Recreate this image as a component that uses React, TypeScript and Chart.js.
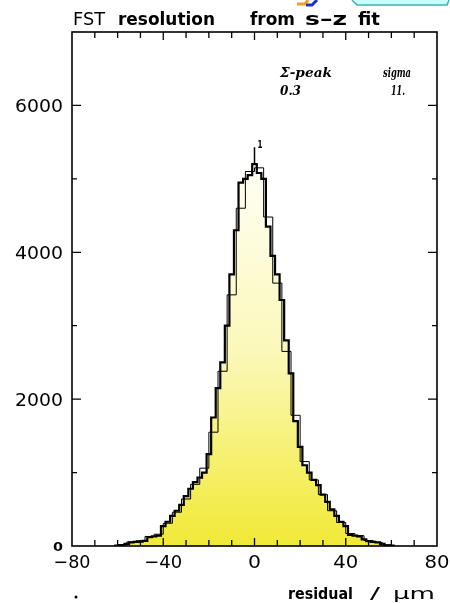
import React, { useEffect, useRef } from "react";
import { Chart, registerables } from "chart.js";

Chart.register(...registerables);

// Residual histogram, 2 µm bins centred on even values
const binWidth = 2;
const binCenters = [
  -60, -58, -56, -54, -52, -50, -48, -46, -44, -42, -40, -38, -36, -34, -32, -30,
  -28, -26, -24, -22, -20, -18, -16, -14, -12, -10, -8, -6, -4, -2, 0, 2, 4, 6, 8,
  10, 12, 14, 16, 18, 20, 22, 24, 26, 28, 30, 32, 34, 36, 38, 40, 42, 44, 46, 48,
  50, 52, 54, 56, 58, 60,
];
const counts = [
  5, 10, 30, 50, 55, 60, 70, 120, 130, 140, 270, 330, 410, 480, 560, 680,
  780, 870, 930, 1000, 1250, 1750, 2150, 2500, 3000, 3700, 4300, 4950, 5000, 5050, 5200, 5080, 5000, 4350, 3950,
  3700, 3350, 2800, 2350, 1700, 1350, 1100, 1000, 900, 830, 700, 600, 500, 410, 330,
  270, 150, 140, 130, 90, 65, 55, 50, 30, 10, 5,
];

// Same residuals in 4 µm bins (open outline)
const coarseWidth = 4;
const coarseCenters = [
  -58, -54, -50, -46, -42, -38, -34, -30, -26, -22, -18, -14, -10, -6, -2,
  2, 6, 10, 14, 18, 22, 26, 30, 34, 38, 42, 46, 50, 54, 58,
];
const coarseCounts = [
  20, 55, 70, 130, 160, 310, 460, 640, 840, 1060, 1550, 2380, 3420, 4600, 5100,
  5150, 4480, 3580, 2650, 1780, 1150, 900, 700, 480, 320, 170, 140, 75, 50, 15,
];

// Error bar drawn on the peak bin
const peakBarX = 0;
const peakBar = [5200, 5430];

const xMin = -80;
const xMax = 80;
const yMax = 7000;
const xTickValues = [-80, -40, 0, 40, 80];
const xTickLabels = ["\u221280", "\u221240", "0", "40", "80"];
const yTickValues = [2000, 4000, 6000];
const yTickLabels = ["2000", "4000", "6000"];

const titleWords = ["FST", "resolution", "from", "s\u2013z", "fit"];
const statNames = ["\u03a3-peak", "sigma"];
const statValues = ["0.3", "11."];
const axisTitle = ["residual", "/", "\u03bcm"];

function stepPoints(centers: number[], values: number[], width: number) {
  const pts: { x: number; y: number }[] = [{ x: centers[0] - width / 2, y: 0 }];
  centers.forEach((c, i) => pts.push({ x: c - width / 2, y: values[i] }));
  const right = centers[centers.length - 1] + width / 2;
  pts.push({ x: right, y: values[values.length - 1] });
  pts.push({ x: right, y: 0 });
  return pts;
}

function fitText(
  ctx: CanvasRenderingContext2D,
  text: string,
  x: number,
  y: number,
  w: number,
  font: string
) {
  ctx.save();
  ctx.font = font;
  ctx.textAlign = "left";
  ctx.textBaseline = "alphabetic";
  const m = ctx.measureText(text).width;
  ctx.translate(x, y);
  ctx.scale(w / m, 1);
  ctx.fillText(text, 0, 0);
  ctx.restore();
}

const framePlugin = {
  id: "hbookFrame",
  afterDraw(chart: any) {
    const { ctx, chartArea: a } = chart;
    const xs = chart.scales.x;
    const ys = chart.scales.y;
    ctx.save();
    ctx.strokeStyle = "#000";
    ctx.fillStyle = "#000";

    // frame
    ctx.lineWidth = 1.6;
    ctx.strokeRect(a.left, a.top, a.right - a.left, a.bottom - a.top);

    // x ticks on bottom and top, pointing inward
    ctx.lineWidth = 1.3;
    for (let v = -70; v <= 70; v += 10) {
      const px = xs.getPixelForValue(v);
      const len = v % 40 === 0 ? 8 : 6;
      ctx.beginPath();
      ctx.moveTo(px, a.bottom);
      ctx.lineTo(px, a.bottom - len);
      ctx.moveTo(px, a.top);
      ctx.lineTo(px, a.top + len);
      ctx.stroke();
    }
    // y ticks on left and right
    for (let v = 1000; v <= 6000; v += 1000) {
      const py = ys.getPixelForValue(v);
      const len = v % 2000 === 0 ? 9 : 5;
      ctx.beginPath();
      ctx.moveTo(a.left, py);
      ctx.lineTo(a.left + len, py);
      ctx.moveTo(a.right, py);
      ctx.lineTo(a.right - len, py);
      ctx.stroke();
    }

    // y tick labels
    const numFont = "18px 'DejaVu Sans'";
    yTickValues.forEach((v, i) => {
      const py = ys.getPixelForValue(v);
      fitText(ctx, yTickLabels[i], 15, py + 6.5, 48, numFont);
    });
    fitText(ctx, "0", 53, ys.getPixelForValue(0) + 5, 10, "bold 13px 'DejaVu Sans'");

    // x tick labels
    const xWidths = [37, 38, 13, 25, 25];
    xTickValues.forEach((v, i) => {
      const px = xs.getPixelForValue(v);
      fitText(ctx, xTickLabels[i], px - xWidths[i] / 2, a.bottom + 22, xWidths[i], numFont);
    });

    // title
    const tFont = "bold 17px 'DejaVu Sans'";
    const tPos = [
      [73, 32],
      [118, 97],
      [250, 45],
      [305, 42],
      [358, 22],
    ];
    titleWords.forEach((w, i) => {
      const f = i === 0 ? "17px 'DejaVu Sans'" : tFont;
      fitText(ctx, w, tPos[i][0], 25, tPos[i][1], f);
    });

    // fit statistics
    const sFont = "italic bold 12px 'DejaVu Serif'";
    fitText(ctx, statNames[0], 280, 77, 52, sFont);
    fitText(ctx, statNames[1], 383, 77, 28, sFont);
    fitText(ctx, statValues[0], 280, 95, 21, sFont);
    fitText(ctx, statValues[1], 391, 95, 14, sFont);

    // peak marker label
    const topPx = ys.getPixelForValue(peakBar[1]);
    fitText(ctx, "1", xs.getPixelForValue(peakBarX) + 3, topPx + 1, 5, "bold 11px 'DejaVu Sans'");

    // axis title
    fitText(ctx, axisTitle[0], 288, 599, 65, "bold 16px 'DejaVu Sans'");
    fitText(ctx, axisTitle[1], 370, 599, 10, "16px 'DejaVu Sans'");
    fitText(ctx, axisTitle[2], 393, 599, 42, "16px 'DejaVu Sans'");

    // lone dot below the axis
    ctx.beginPath();
    ctx.arc(76, 597, 1.5, 0, Math.PI * 2);
    ctx.fill();

    // edge fragments at the top of the page
    ctx.fillStyle = "#ccfbfb";
    ctx.fillRect(356, 0, 91, 4);
    ctx.strokeStyle = "#2bb6b6";
    ctx.lineWidth = 1.5;
    ctx.beginPath();
    ctx.moveTo(352, 0);
    ctx.lineTo(357, 5);
    ctx.lineTo(447, 5);
    ctx.lineTo(449, 0);
    ctx.stroke();
    ctx.strokeStyle = "#f0a020";
    ctx.lineWidth = 3;
    ctx.beginPath();
    ctx.moveTo(297, 4);
    ctx.lineTo(305, 4);
    ctx.lineTo(308, 0);
    ctx.stroke();
    ctx.strokeStyle = "#2030d0";
    ctx.beginPath();
    ctx.moveTo(306, 5);
    ctx.lineTo(312, 5);
    ctx.lineTo(317, 0);
    ctx.stroke();
    ctx.restore();
  },
};

export default function App() {
  const ref = useRef<HTMLCanvasElement | null>(null);

  useEffect(() => {
    if (!ref.current) return;
    const chart = new Chart(ref.current, {
      type: "line",
      data: {
        datasets: [
          {
            label: "peak error",
            data: peakBar.map((y) => ({ x: peakBarX, y })),
            borderColor: "#000",
            borderWidth: 1.5,
            pointRadius: 0,
            fill: false,
            order: 0,
          },
          {
            label: "residual (2 µm bins)",
            data: stepPoints(binCenters, counts, binWidth),
            stepped: "before",
            borderColor: "#000",
            borderWidth: 2.2,
            pointRadius: 0,
            fill: "origin",
            backgroundColor: (c: any) => {
              const area = c.chart.chartArea;
              if (!area) return "#f6f07a";
              const yTop = c.chart.scales.y.getPixelForValue(5200);
              const g = c.chart.ctx.createLinearGradient(0, area.bottom, 0, yTop);
              g.addColorStop(0, "#f1e936");
              g.addColorStop(0.18, "#f5ef62");
              g.addColorStop(0.5, "#fbf8b8");
              g.addColorStop(1, "#fffff6");
              return g;
            },
            order: 2,
          },
          {
            label: "residual (4 µm bins)",
            data: stepPoints(coarseCenters, coarseCounts, coarseWidth),
            stepped: "before",
            borderColor: "#000",
            borderWidth: 1,
            pointRadius: 0,
            fill: false,
            order: 1,
          },
        ],
      },
      options: {
        responsive: false,
        animation: false,
        events: [],
        layout: { padding: { left: 72, right: 13, top: 32, bottom: 57 } },
        plugins: {
          legend: { display: false },
          tooltip: { enabled: false },
          title: { display: false },
        },
        scales: {
          x: { type: "linear", min: xMin, max: xMax, display: false },
          y: { type: "linear", min: 0, max: yMax, display: false },
        },
      },
      plugins: [framePlugin],
    });
    return () => chart.destroy();
  }, []);

  return (
    <div style={{ position: "fixed", left: 0, top: 0, width: 450, height: 603, background: "#fff" }}>
      <canvas ref={ref} width={450} height={603} />
    </div>
  );
}
